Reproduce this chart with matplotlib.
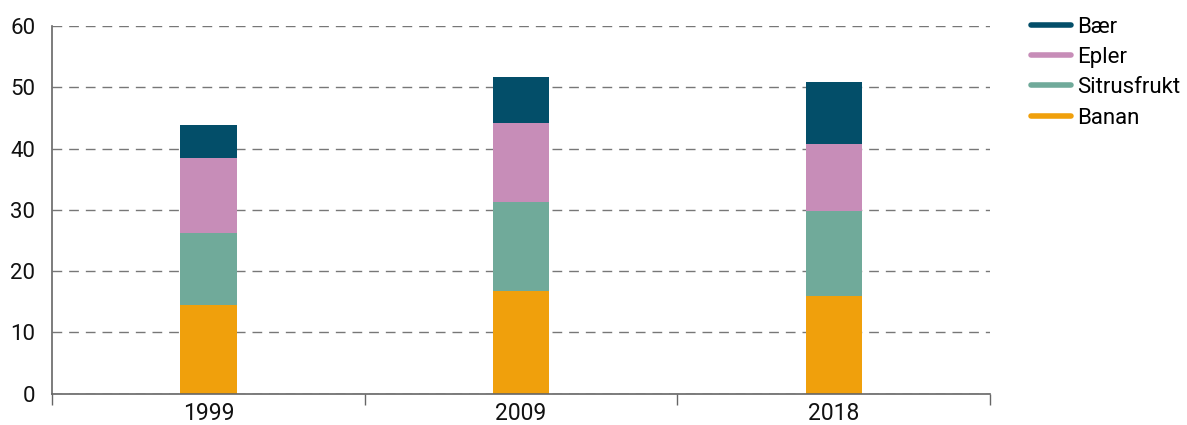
import matplotlib
matplotlib.use("Agg")
import matplotlib.pyplot as plt
from matplotlib.lines import Line2D
import numpy as np

plt.rcParams["font.family"] = ["Roboto", "DejaVu Sans"]

years = ["1999", "2009", "2018"]
series = ["Banan", "Sitrusfrukt", "Epler", "Bær"]
banan = [14.5, 16.8, 15.9]
sitrus = [11.8, 14.5, 13.9]
epler = [12.2, 12.8, 11.0]
baer = [5.4, 7.5, 10.0]
colors = ["#f0a00c", "#70aa9a", "#c78db8", "#034e69"]

fig = plt.figure(figsize=(11.87, 4.25), dpi=100)
ax = fig.add_axes([0.0438, 0.0737, 0.7904, 0.8651])

x = np.arange(len(years))
bottom = np.zeros(len(years))
for vals, col in zip([banan, sitrus, epler, baer], colors):
    ax.bar(x, vals, width=0.18, bottom=bottom, color=col, zorder=3)
    bottom += np.array(vals)

ax.set_xlim(-0.5, 2.5)
ax.set_ylim(0, 60)
ax.set_yticks(range(0, 61, 10))
ax.grid(axis="y", linestyle=(0, (7, 5)), color="#777777", linewidth=1.0, zorder=0)
ax.tick_params(axis="y", length=0, labelsize=16, pad=12, labelcolor="#111111")

# year labels at bar centres, tick marks between categories
ax.set_xticks(x)
ax.set_xticklabels(years, fontsize=16.5, color="#111111")
ax.tick_params(axis="x", which="major", length=0, pad=6)
ax.set_xticks([-0.5, 0.5, 1.5, 2.5], minor=True)
ax.tick_params(axis="x", which="minor", length=8, color="#666666", width=1)

for side in ["top", "right"]:
    ax.spines[side].set_visible(False)
for side in ["left", "bottom"]:
    ax.spines[side].set_color("#666666")
    ax.spines[side].set_linewidth(1.2)
ax.spines["bottom"].set_zorder(4)

handles = [Line2D([0], [0], color=c, linewidth=4, solid_capstyle="round")
           for c in colors[::-1]]
fig.legend(handles, series[::-1], loc="upper left", bbox_to_anchor=(0.852, 1.008),
           frameon=False, fontsize=16, handlelength=1.8, handletextpad=0.25,
           labelspacing=0.42)

fig.savefig("out.png", dpi=100)
